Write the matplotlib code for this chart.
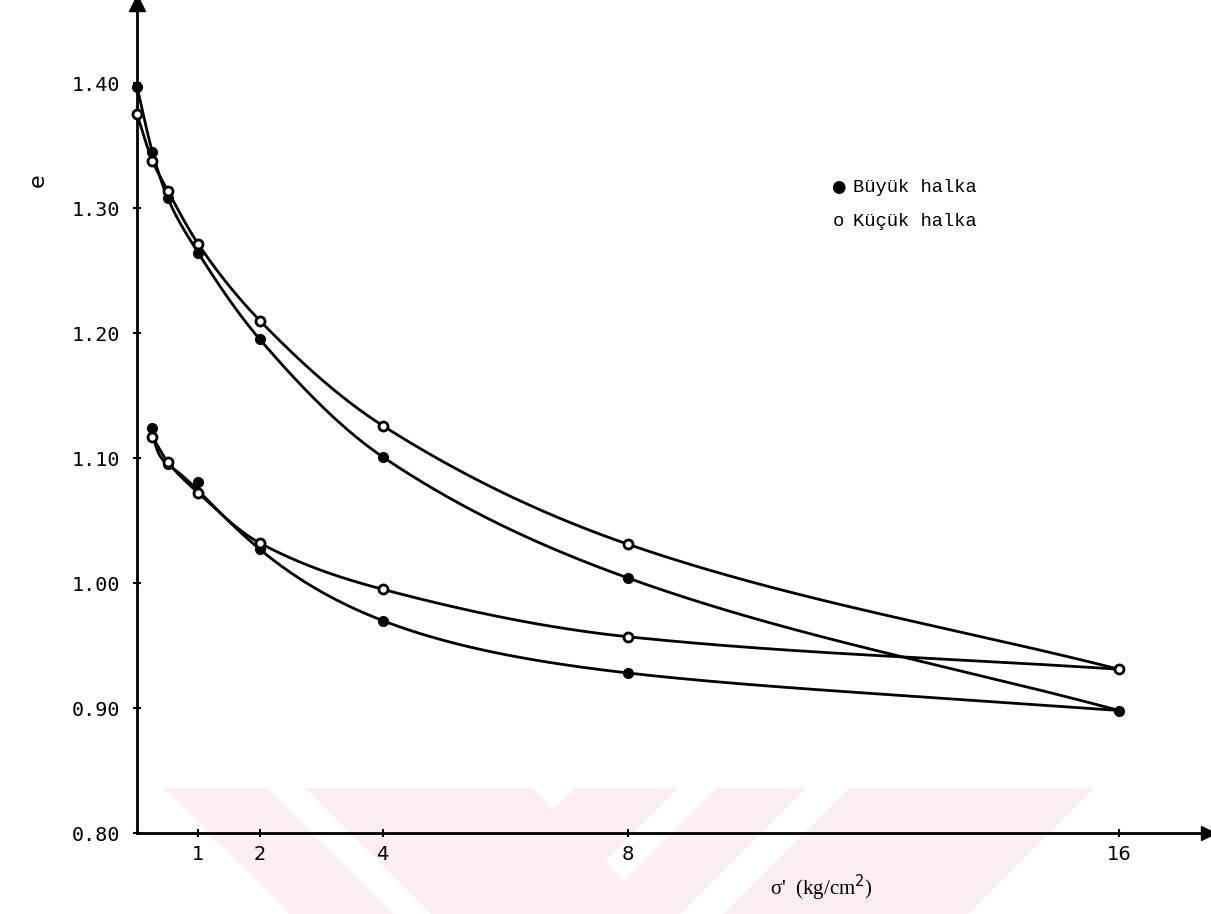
import numpy as np
import matplotlib
matplotlib.use("Agg")
import matplotlib.pyplot as plt
from matplotlib.patches import Polygon

# ---------------- data ----------------
sigma_load = [0.0, 0.25, 0.5, 1, 2, 4, 8, 16]
e_buyuk_load = [1.397, 1.345, 1.308, 1.264, 1.195, 1.101, 1.004, 0.898]
e_kucuk_load = [1.375, 1.338, 1.314, 1.271, 1.210, 1.126, 1.031, 0.931]

sigma_unload = [8, 4, 2, 1, 0.5, 0.25]
e_buyuk_unload = [0.928, 0.970, 1.027, 1.081, 1.095, 1.124]
e_kucuk_unload = [0.957, 0.995, 1.032, 1.072, 1.097, 1.117]

x_ticks = [1, 2, 4, 8, 16]
x_ticklabels = ["1", "2", "4", "8", "16"]
y_ticks = [0.80, 0.90, 1.00, 1.10, 1.20, 1.30, 1.40]
y_ticklabels = ["0.80", "0.90", "1.00", "1.10", "1.20", "1.30", "1.40"]

legend_labels = ["Büyük halka", "Küçük halka"]
x_label = "σ'  (kg/cm$^2$)"
y_label = "e"


def pchip(x, y, xs):
    x = np.asarray(x, float)
    y = np.asarray(y, float)
    o = np.argsort(x)
    x, y = x[o], y[o]
    h = np.diff(x)
    dl = np.diff(y) / h
    n = len(x)
    d = np.zeros(n)
    for k in range(1, n - 1):
        if dl[k - 1] * dl[k] > 0:
            w1 = 2 * h[k] + h[k - 1]
            w2 = h[k] + 2 * h[k - 1]
            d[k] = (w1 + w2) / (w1 / dl[k - 1] + w2 / dl[k])
    d[0] = dl[0]
    d[-1] = dl[-1]
    xs = np.asarray(xs, float)
    idx = np.clip(np.searchsorted(x, xs) - 1, 0, n - 2)
    t = (xs - x[idx]) / h[idx]
    h00 = 2 * t**3 - 3 * t**2 + 1
    h10 = t**3 - 2 * t**2 + t
    h01 = -2 * t**3 + 3 * t**2
    h11 = t**3 - t**2
    return (h00 * y[idx] + h10 * h[idx] * d[idx] + h01 * y[idx + 1]
            + h11 * h[idx] * d[idx + 1])


def smooth_fit(x, y, xs, w, deg=5):
    # hand-drawn style smooth curve: weighted poly fit in log(sigma)
    lx = np.log(np.asarray(x, float))
    c = np.polyfit(lx, np.asarray(y, float), deg, w=np.asarray(w, float))
    return np.polyval(c, np.log(xs))


W, H = 1211, 914
fig = plt.figure(figsize=(W / 100, H / 100), dpi=100)
fig.patch.set_facecolor("white")

# faint watermark stripes at the bottom (pixel coords -> figure fraction)
pink = "#fdeef2"
def fpoly(pts):
    return [(px / W, 1 - py / H) for px, py in pts]
stripes = [
    [(163, 788), (267, 788), (393, 914), (289, 914)],
    [(305, 788), (533, 788), (659, 914), (431, 914)],
    [(575, 788), (678, 788), (552, 914), (449, 914)],
    [(717, 788), (806, 788), (680, 914), (591, 914)],
    [(849, 788), (1094, 788), (968, 914), (723, 914)],
]
for s in stripes:
    fig.add_artist(Polygon(fpoly(s), closed=True, facecolor=pink,
                           edgecolor="none", transform=fig.transFigure,
                           zorder=-10))

# axes geometry in pixels
x0_px, x1_px = 137, 1208
y0_px, y1_px = 833, 3
ax = fig.add_axes([x0_px / W, 1 - y0_px / H, (x1_px - x0_px) / W,
                   (y0_px - y1_px) / H])
ax.patch.set_alpha(0)

px_per_unit = (1119 - 137) / 16.0
xmax = (x1_px - x0_px) / px_per_unit
px_per_e = (833 - 708) / 0.1
ymax = 0.80 + (y0_px - y1_px) / px_per_e
ax.set_xlim(0, xmax)
ax.set_ylim(0.80, ymax)

lw = 2.0
# loading curves
xs = np.linspace(0, 16, 600)
ax.plot(xs, pchip(sigma_load, e_buyuk_load, xs), color="black", lw=lw,
        solid_capstyle="round")
ax.plot(xs, pchip(sigma_load, e_kucuk_load, xs), color="black", lw=lw,
        solid_capstyle="round")
# unloading curves (start from the 16 point of loading)
xu = np.linspace(0.25, 16, 600)
ax.plot(xu, smooth_fit([16] + sigma_unload, [e_buyuk_load[-1]] + e_buyuk_unload,
                       xu, w=[1, 1, 1, 1, 0.05, 1, 1]),
        color="black", lw=lw, solid_capstyle="round")
ax.plot(xu, pchip([16] + sigma_unload, [e_kucuk_load[-1]] + e_kucuk_unload, xu),
        color="black", lw=lw, solid_capstyle="round")

# markers
ax.plot(sigma_load, e_buyuk_load, "o", color="black", ms=7, zorder=5,
        clip_on=False)
ax.plot(sigma_unload, e_buyuk_unload, "o", color="black", ms=7, zorder=5,
        clip_on=False)
ax.plot(sigma_load, e_kucuk_load, "o", mfc="white", mec="black", mew=2,
        ms=6.5, zorder=6, clip_on=False)
ax.plot(sigma_unload, e_kucuk_unload, "o", mfc="white", mec="black", mew=2,
        ms=6.5, zorder=6, clip_on=False)

# spines / axes
for s in ["top", "right"]:
    ax.spines[s].set_visible(False)
for s in ["left", "bottom"]:
    ax.spines[s].set_linewidth(2.0)
ax.plot([0], [ymax], marker="^", color="black", ms=11, clip_on=False,
        zorder=7)
ax.plot([xmax], [0.80], marker=">", color="black", ms=10, clip_on=False,
        zorder=7)

ax.set_xticks(x_ticks)
ax.set_xticklabels(x_ticklabels, fontsize=14, family="DejaVu Sans")
ax.set_yticks(y_ticks)
ax.set_yticklabels(y_ticklabels, fontsize=14.5, family="DejaVu Sans Mono")
ax.tick_params(axis="both", direction="inout", length=6, width=1.5)
ax.tick_params(axis="y", pad=9)
ax.tick_params(axis="x", pad=6)

# y label
fig.text(38 / W, 1 - 180 / H, y_label, rotation=90, fontsize=16,
         family="DejaVu Sans", ha="center", va="center")
# x label
fig.text(770 / W, 1 - 888 / H, x_label, fontsize=15, family="Liberation Serif",
         ha="left", va="center")

# legend (manual, typewriter style)
fig.text(838 / W, 1 - 187 / H, "●", fontsize=12, family="DejaVu Sans",
         ha="center", va="center")
fig.text(853 / W, 1 - 187 / H, legend_labels[0], fontsize=13.5,
         family="Liberation Mono", ha="left", va="center")
fig.text(838 / W, 1 - 221 / H, "o", fontsize=13.5, family="Liberation Mono",
         ha="center", va="center")
fig.text(853 / W, 1 - 221 / H, legend_labels[1], fontsize=13.5,
         family="Liberation Mono", ha="left", va="center")

fig.savefig("out.png", dpi=100, facecolor="white")
